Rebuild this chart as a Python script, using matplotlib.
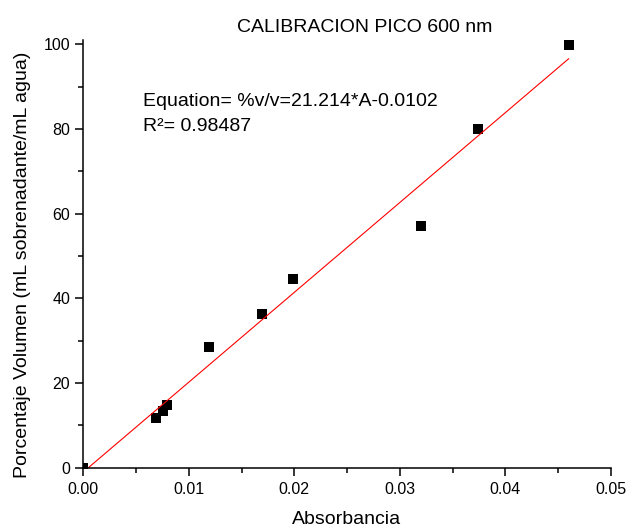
import numpy as np
import matplotlib
matplotlib.use("Agg")
import matplotlib.pyplot as plt
from matplotlib.ticker import MultipleLocator, FormatStrFormatter

plt.rcParams['font.family'] = ['Liberation Sans', 'DejaVu Sans']

# Data
absorbancia = [0.0, 0.0069, 0.00753, 0.00796, 0.01194, 0.01697, 0.01988, 0.0320, 0.0374, 0.0460]
porcentaje = [0.0, 11.8, 13.4, 14.7, 28.5, 36.4, 44.6, 57.1, 80.0, 99.9]

# Linear fit as reported in the chart (y in %, so scaled x100)
fit_slope = 2121.4
fit_intercept = -1.02

title = "CALIBRACION PICO 600 nm"
xlabel = "Absorbancia"
ylabel = "Porcentaje Volumen (mL sobrenadante/mL agua)"
eq_text = "Equation= %v/v=21.214*A-0.0102"
r2_text = "R\u00b2= 0.98487"

W, H = 629, 529
fig = plt.figure(figsize=(W / 100, H / 100), dpi=100)

def fx(px):
    return px / W

def fy(py):
    return 1 - py / H

ax_left, ax_right, ax_top, ax_bottom = 83.3, 610.8, 40.0, 467.7
ax = fig.add_axes([fx(ax_left), fy(ax_bottom), (ax_right - ax_left) / W, (ax_bottom - ax_top) / H])

ax.plot(absorbancia, porcentaje, linestyle='none', marker='s', markersize=6.5,
        color='black', markeredgewidth=0)
xfit = np.array([0.0, max(absorbancia)])
ax.plot(xfit, fit_slope * xfit + fit_intercept, color='red', linewidth=0.8)

ax.set_xlim(0, 0.05)
ax.set_ylim(0, 101)

for s in ['top', 'right']:
    ax.spines[s].set_visible(False)
for s in ['left', 'bottom']:
    ax.spines[s].set_linewidth(1.1)

ax.xaxis.set_major_locator(MultipleLocator(0.01))
ax.xaxis.set_minor_locator(MultipleLocator(0.005))
ax.xaxis.set_major_formatter(FormatStrFormatter('%.2f'))
ax.yaxis.set_major_locator(MultipleLocator(20))
ax.yaxis.set_minor_locator(MultipleLocator(10))
ax.yaxis.set_major_formatter(FormatStrFormatter('%d'))

ax.tick_params(which='major', direction='out', length=5.5, width=1.1, labelsize=11.5, pad=5)
ax.tick_params(which='minor', direction='out', length=3.3, width=1.1)
ax.tick_params(axis='y', which='major', pad=4)

fig.text(fx(365), fy(31.7), title, ha='center', va='baseline', fontsize=14)
fig.text(fx(347), fy(524), xlabel, ha='center', va='baseline', fontsize=14)
fig.text(fx(23), fy(265), ylabel, ha='center', va='center', rotation=90, fontsize=14)
fig.text(fx(143.3), fy(106), eq_text, ha='left', va='baseline', fontsize=14)
fig.text(fx(143.3), fy(131), r2_text, ha='left', va='baseline', fontsize=14)

fig.savefig("out.png", dpi=100)
